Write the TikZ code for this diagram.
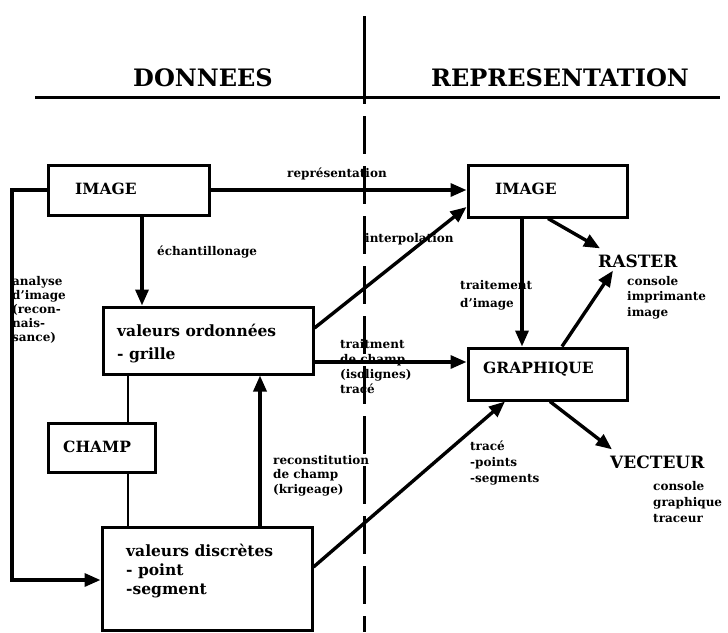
\documentclass[tikz,border=0pt]{standalone}
\usepackage{fontspec}
\setmainfont{DejaVu Serif}
\usetikzlibrary{arrows.meta}
\begin{document}
\begin{tikzpicture}[x=1pt,y=-1pt,
  box/.style={draw,line width=3pt,inner sep=0pt},
  arr/.style={line width=3.4pt,-{Triangle[length=16pt,width=13pt]}},
  conn/.style={line width=2.8pt},
  boxtext/.style={font=\bfseries\fontsize{15.5}{23}\selectfont,inner sep=0pt,anchor=west,align=left},
  captext/.style={font=\bfseries\fontsize{17}{20}\selectfont,inner sep=0pt,anchor=west},
  lbl/.style={font=\bfseries\fontsize{12}{14}\selectfont,inner sep=0pt,align=left},
  title/.style={font=\bfseries\fontsize{24}{28}\selectfont,inner sep=0pt}
]
\useasboundingbox[fill=white] (0,0) rectangle (728,632);

% header
\coordinate (hl) at (35,97);
\coordinate (hr) at (720,97);
\coordinate (dtop) at (364,16);
\coordinate (dmid) at (364,104);
\coordinate (dds) at (364,116);
\coordinate (dbot) at (364,632);
\draw[line width=3pt] (hl) -- (hr);
\draw[line width=3pt] (dtop) -- (dmid);
\draw[line width=3pt,dash pattern=on 38pt off 12pt] (dds) -- (dbot);
\node[title] (tdon) at (203,78) {DONNEES};
\node[title] (trep) at (560,78) {REPRESENTATION};

% boxes
\node[box,minimum width=161pt,minimum height=50pt] (imgL) at (128.5,190) {};
\node[box,minimum width=159pt,minimum height=52pt] (imgR) at (547.5,191) {};
\node[box,minimum width=210pt,minimum height=67pt] (vord) at (208,340.5) {};
\node[box,minimum width=159pt,minimum height=52pt] (graph) at (547.5,374) {};
\node[box,minimum width=107pt,minimum height=49pt] (champ) at (101.5,447.5) {};
\node[box,minimum width=210pt,minimum height=103pt] (vdisc) at (207,578.5) {};

% box texts
\node[boxtext] (imgLt) at (75,189) {IMAGE};
\node[boxtext] (imgRt) at (495,189) {IMAGE};
\node[boxtext,anchor=north west] (vordt) at (117,324) {valeurs ordonnées\\- grille};
\node[boxtext] (grapht) at (483,369) {GRAPHIQUE};
\node[boxtext] (champt) at (63,447) {CHAMP};
\node[boxtext,anchor=north west,font=\bfseries\fontsize{15.5}{19}\selectfont] (vdisct) at (126,544) {valeurs discrètes\\- point\\-segment};

% outputs
\node[captext] (raster) at (598,261) {RASTER};
\node[captext] (vect) at (610,462) {VECTEUR};
\node[lbl,anchor=north west,font=\bfseries\fontsize{12}{15.5}\selectfont] (rasterl) at (627,276) {console\\imprimante\\image};
\node[lbl,anchor=north west,font=\bfseries\fontsize{12}{16}\selectfont] (vectl) at (653,481) {console\\graphique\\traceur};

% helper coordinates
\coordinate (ech) at (142,0);
\coordinate (lp) at (12,0);
\coordinate (cx) at (128,0);
\coordinate (rx) at (260,0);
\coordinate (tx) at (505,0);
\coordinate (ix) at (522,0);
\coordinate (sx) at (548,0);
\coordinate (gx) at (562,0);
\coordinate (vx) at (550,0);

% connectors
\draw[arr] (imgL.east) -- (imgL.east -| imgR.west);
\draw[arr] (imgL.south -| ech) -- (vord.north -| ech);
\draw[arr] (imgL.west) -- (imgL.west -| lp) |- ([yshift=-1.5pt]vdisc.west);
\draw[arr] ([yshift=12.5pt]vord.east) -- ([yshift=-16pt]imgR.west);
\draw[arr] ([yshift=-21.5pt]vord.east) -- ([yshift=-21.5pt]vord.east -| graph.west);
\draw[conn] (vord.south -| cx) -- (champ.north -| cx);
\draw[conn] (champ.south -| cx) -- (vdisc.north -| cx);
\draw[arr] (vdisc.north -| rx) -- (vord.south -| rx);
\draw[arr] ([yshift=11.5pt]vdisc.east) -- (graph.south -| tx);
\draw[arr] (imgR.south -| ix) -- (graph.north -| ix);
\draw[arr] (imgR.south -| sx) -- ([xshift=2pt,yshift=6pt]raster.north west);
\draw[arr] (graph.north -| gx) -- ([xshift=15pt,yshift=-3pt]raster.south west);
\draw[arr] (graph.south -| vx) -- ([xshift=2pt,yshift=6pt]vect.north west);

% labels
\node[lbl,anchor=west] (lrep) at (287,174) {représentation};
\node[lbl,anchor=west] (lech) at (157,252) {échantillonage};
\node[lbl,anchor=north west] (lana) at (12,276) {analyse\\d'image\\(recon-\\nais-\\sance)};
\node[lbl,anchor=west] (lint) at (365,239) {interpolation};
\node[lbl,anchor=north west,font=\bfseries\fontsize{12}{15}\selectfont] (ltrc) at (340,339) {traitment\\de champ\\(isolignes)\\tracé};
\node[lbl,anchor=north west,font=\bfseries\fontsize{12}{14.5}\selectfont] (lrec) at (273,455) {reconstitution\\de champ\\(krigeage)};
\node[lbl,anchor=north west,font=\bfseries\fontsize{12}{18}\selectfont] (ltri) at (460,280) {traitement\\d'image};
\node[lbl,anchor=north west,font=\bfseries\fontsize{12}{16}\selectfont] (ltra) at (470,441) {tracé\\-points\\-segments};
\end{tikzpicture}
\end{document}
